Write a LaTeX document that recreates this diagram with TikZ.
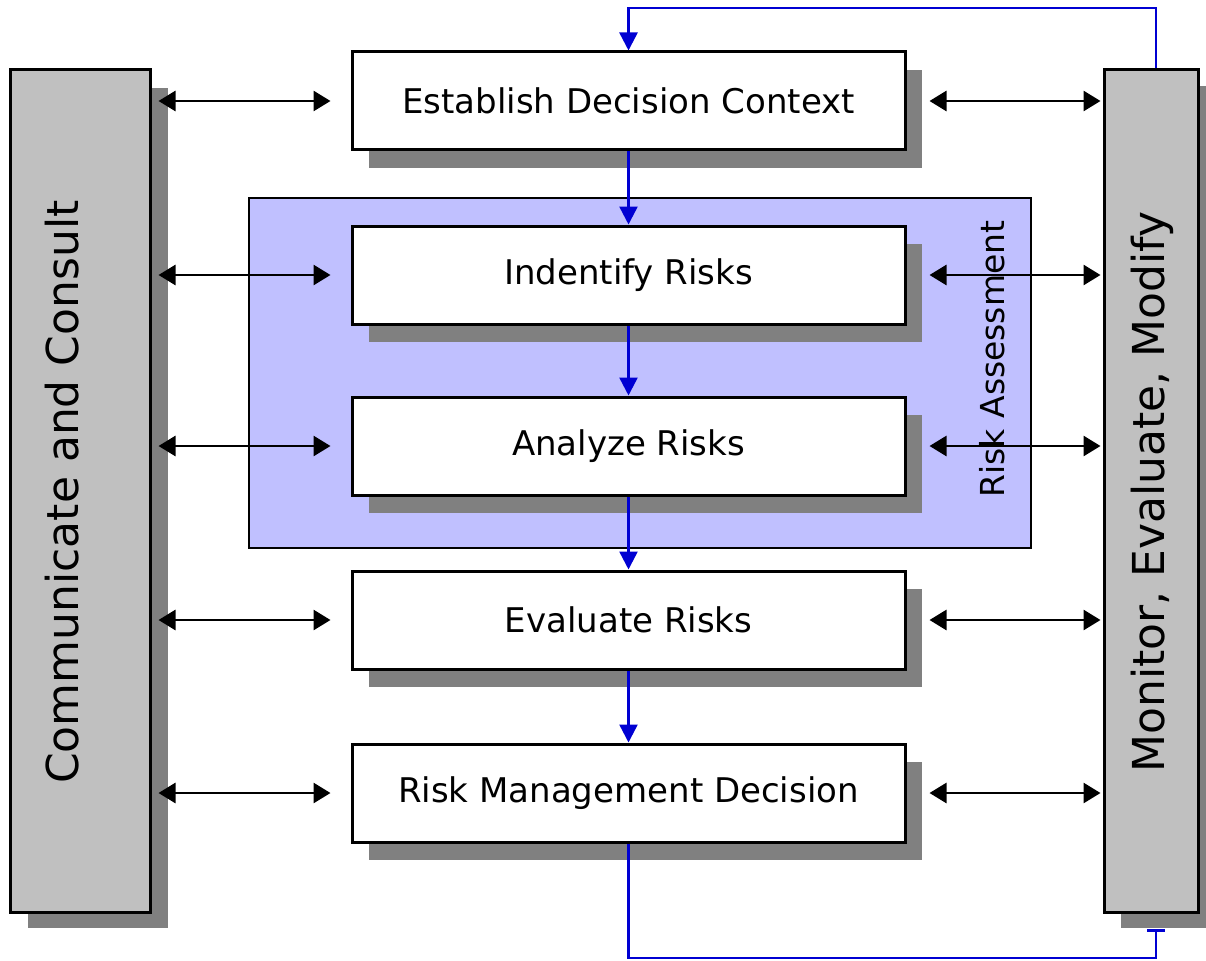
\documentclass[tikz,border=0pt]{standalone}
\usepackage{fontspec}
\setmainfont{DejaVu Sans}
\usetikzlibrary{arrows.meta,calc}
\definecolor{bargray}{RGB}{192,192,192}
\definecolor{shadowgray}{RGB}{128,128,128}
\definecolor{raviolet}{RGB}{192,192,255}
\definecolor{flowblue}{RGB}{0,0,210}
\tikzset{
  stepbox/.style={draw=black, line width=3pt, fill=white, minimum width=553pt, minimum height=98pt, inner sep=0pt, font=\fontsize{34}{40}\selectfont},
  sidebar/.style={draw=black, line width=3pt, fill=bargray, minimum height=842pt, inner sep=0pt},
  dbl/.style={line width=2.8pt, {Triangle[length=17pt,width=20pt]}-{Triangle[length=17pt,width=20pt]}},
  flow/.style={draw=flowblue, line width=2.5pt, -{Triangle[length=18pt,width=18pt]}},
  shade/.style={fill=shadowgray}
}
\begin{document}
\begin{tikzpicture}[x=1pt,y=-1pt]
\useasboundingbox (0,0) rectangle (1206,960);
\clip (0,0) rectangle (1206,960);
% risk assessment region
\node[draw=black, line width=2.5pt, fill=raviolet, minimum width=782pt, minimum height=350pt, inner sep=0pt] (RA) at (640,373) {};
\node[rotate=90, font=\fontsize{33}{38}\selectfont, inner sep=0pt] (RAlabel) at (992,359) {Risk Assessment};
% boxes
\coordinate (cE) at (628.5,101);
\coordinate (cI) at (628.5,275);
\coordinate (cA) at (628.5,446);
\coordinate (cV) at (628.5,620);
\coordinate (cD) at (628.5,793);
\foreach \c in {cE,cI,cA,cV,cD}{
  \fill[shade] ($(\c)+(-276.5+17,-49+18)$) rectangle ($(\c)+(276.5+17,49+18)$);
}
\fill[shade] (28,88) rectangle (168,928);
\fill[shade] (1121,86) rectangle (1215,928);
\node[stepbox] (E) at (cE) {Establish Decision Context};
\node[stepbox] (I) at (cI) {Indentify Risks};
\node[stepbox] (A) at (cA) {Analyze Risks};
\node[stepbox] (V) at (cV) {Evaluate Risks};
\node[stepbox] (D) at (cD) {Risk Management Decision};
\node[sidebar, minimum width=140pt] (L) at (80,491) {};
\node[sidebar, minimum width=94pt] (R) at (1151,491) {};
\node[rotate=90, font=\fontsize{44}{50}\selectfont, inner sep=0pt] (Ltext) at (62,492) {Communicate and Consult};
\node[rotate=90, font=\fontsize{44}{50}\selectfont, inner sep=0pt] (Rtext) at (1152,492) {Monitor, Evaluate, Modify};
% horizontal double arrows
\foreach \b in {E,I,A,V,D}{
  \draw[dbl] ($(L.east|-\b.west)+(7,0)$) -- ($(\b.west)+(-20,0)$);
  \draw[dbl] ($(\b.east)+(23,0)$) -- ($(R.west|-\b.east)+(-2,0)$);
}
% flow arrows
\draw[flow] (E.south) -- (I.north);
\draw[flow] (I.south) -- (A.north);
\draw[flow] (A.south) -- (V.north);
\draw[flow] (V.south) -- (D.north);
% feedback loops
\coordinate (topR) at ($(R.north)+(5,0)$);
\draw[flow] (topR) |- (628.5,8) -- (E.north);
\coordinate (botR) at (1156,929);
\draw[draw=flowblue, line width=2.5pt, -{Bar[width=18pt]}] (D.south) |- (1156,958) -- (botR);
\end{tikzpicture}
\end{document}
